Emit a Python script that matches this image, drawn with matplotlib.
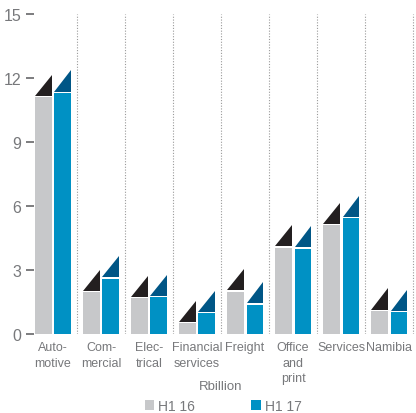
import numpy as np
import matplotlib.pyplot as plt
from matplotlib.patches import Polygon, Patch

categories = ["Auto-\nmotive", "Com-\nmercial", "Elec-\ntrical", "Financial\nservices",
              "Freight", "Office\nand\nprint", "Services", "Namibia"]
h1_16 = [11.1, 1.95, 1.67, 0.5, 1.98, 4.05, 5.1, 1.08]
h1_17 = [11.3, 2.6, 1.72, 0.97, 1.37, 4.0, 5.42, 1.02]
yticks = [0, 3, 6, 9, 12, 15]

grey = "#c7c8ca"
blue = "#0091c4"
black_tri = "#231f20"
blue_tri = "#005686"
txt = "#77787b"

plt.rcParams['font.family'] = ['Liberation Sans', 'DejaVu Sans']

fig = plt.figure(figsize=(4.16, 4.14), dpi=100)
ax = fig.add_axes([34 / 416, 1 - 335 / 414, 1 - 34 / 416, 320 / 414])

x = np.arange(len(categories))
w = 0.34
off = 0.2
tri_h = 1.0
gap = 0.06

ax.bar(x - off, h1_16, w, color=grey, zorder=2)
ax.bar(x + off, h1_17, w, color=blue, zorder=2)

# triangular caps on top of every bar
for xs, vals, col in [(x - off, h1_16, black_tri), (x + off, h1_17, blue_tri)]:
    for xi, v in zip(xs, vals):
        l, r = xi - w / 2, xi + w / 2
        b = v + gap
        ax.add_patch(Polygon([(l, b), (r, b), (r, b + tri_h)], closed=True,
                             facecolor=col, edgecolor='none', zorder=2))

# dotted separators
for s in x + 0.5:
    ax.plot([s, s], [0, 15], color="#9a9a9a", lw=0.8, ls=(0, (1, 1.5)), zorder=1)

ax.set_xlim(-0.396, 7.56)
ax.set_ylim(0, 15)
ax.set_yticks(yticks)
ax.set_xticks(x)
ax.set_xticklabels(categories, fontsize=9, color=txt, linespacing=1.4)
ax.tick_params(axis='y', labelsize=11.5, labelcolor=txt, color="#58595b",
               length=6, width=1.1, pad=3)
ax.tick_params(axis='x', length=0, pad=5)
for sp in ax.spines.values():
    sp.set_visible(False)

ax.text(3.5, -2.45, "Rbillion", ha='center', va='center', fontsize=9.5, color=txt)

handles = [Patch(facecolor=grey, label="H1 16"), Patch(facecolor=blue, label="H1 17")]
ax.legend(handles=handles, loc='center', bbox_to_anchor=(0.495, -0.225), ncol=2,
          frameon=False, fontsize=10, labelcolor=txt, handlelength=0.7,
          handleheight=0.7, handletextpad=0.3, columnspacing=4.0,
          bbox_transform=ax.transAxes)

fig.savefig("out.png", dpi=100)
